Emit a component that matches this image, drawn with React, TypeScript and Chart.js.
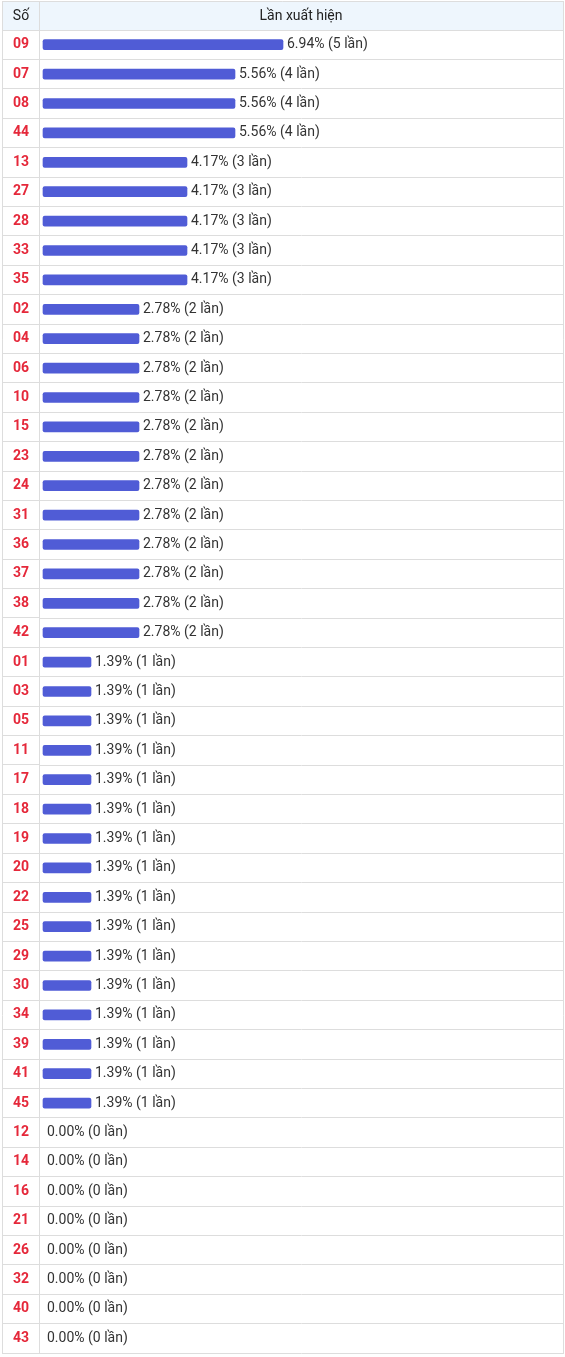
import React, { useEffect, useRef } from 'react';
import { Chart, registerables } from 'chart.js';

Chart.register(...registerables);

const numbers = [
  '09', '07', '08', '44', '13', '27', '28', '33', '35',
  '02', '04', '06', '10', '15', '23', '24', '31', '36', '37', '38', '42',
  '01', '03', '05', '11', '17', '18', '19', '20', '22', '25', '29', '30', '34', '39', '41', '45',
  '12', '14', '16', '21', '26', '32', '40', '43',
];

const counts = [
  5, 4, 4, 4, 3, 3, 3, 3, 3,
  2, 2, 2, 2, 2, 2, 2, 2, 2, 2, 2, 2,
  1, 1, 1, 1, 1, 1, 1, 1, 1, 1, 1, 1, 1, 1, 1, 1,
  0, 0, 0, 0, 0, 0, 0, 0,
];

const percents = [
  '6.94', '5.56', '5.56', '5.56', '4.17', '4.17', '4.17', '4.17', '4.17',
  '2.78', '2.78', '2.78', '2.78', '2.78', '2.78', '2.78', '2.78', '2.78', '2.78', '2.78', '2.78',
  '1.39', '1.39', '1.39', '1.39', '1.39', '1.39', '1.39', '1.39', '1.39', '1.39', '1.39', '1.39', '1.39', '1.39', '1.39', '1.39',
  '0.00', '0.00', '0.00', '0.00', '0.00', '0.00', '0.00', '0.00',
];

const headerLabels = ['Số', 'Lần xuất hiện'];
const unitWord = 'lần';

const W = 565;
const H = 1357;
const FRAME_L = 2;
const FRAME_T = 1;
const FRAME_R = 563;
const FRAME_B = 1353;
const HEADER_B = 30;
const COL_X = 39;
const GRID = '#dddddd';
const BAR = '#505cd6';
const FONT = 'Roboto, "Noto Sans", sans-serif';

const align = (p: number) => Math.round(p - 0.5) + 0.5;

const tablePlugin = {
  id: 'tableFrame',
  beforeDraw(chart: any) {
    const { ctx } = chart;
    ctx.save();
    ctx.fillStyle = '#eef6fd';
    ctx.fillRect(FRAME_L, FRAME_T, FRAME_R - FRAME_L, HEADER_B - FRAME_T);
    ctx.restore();
  },
  afterDraw(chart: any) {
    const { ctx, chartArea } = chart;
    const y = chart.scales.y;
    const n = numbers.length;
    const step = n > 1 ? y.getPixelForTick(1) - y.getPixelForTick(0) : chartArea.height;
    ctx.save();
    ctx.strokeStyle = GRID;
    ctx.lineWidth = 1;
    ctx.beginPath();
    for (let i = 0; i <= n; i++) {
      const py = align(i < n ? y.getPixelForTick(i) - step / 2 : y.getPixelForTick(n - 1) + step / 2);
      ctx.moveTo(FRAME_L, py);
      ctx.lineTo(COL_X, py);
    }
    const top = align(FRAME_T + 0.5);
    const bottom = align(chartArea.bottom);
    ctx.moveTo(FRAME_L, top);
    ctx.lineTo(FRAME_R, top);
    ctx.moveTo(align(FRAME_L + 0.5), FRAME_T);
    ctx.lineTo(align(FRAME_L + 0.5), bottom);
    ctx.moveTo(align(FRAME_R), FRAME_T);
    ctx.lineTo(align(FRAME_R), bottom + 0.5);
    ctx.moveTo(align(COL_X), FRAME_T);
    ctx.lineTo(align(COL_X), HEADER_B);
    ctx.stroke();

    ctx.fillStyle = '#222222';
    ctx.font = `14px ${FONT}`;
    ctx.textBaseline = 'middle';
    ctx.textAlign = 'center';
    const hy = (FRAME_T + HEADER_B) / 2 + 0.5;
    ctx.fillText(headerLabels[0], (FRAME_L + COL_X) / 2 + 0.5, hy);
    ctx.fillText(headerLabels[1], (COL_X + FRAME_R) / 2, hy);

    const meta = chart.getDatasetMeta(0);
    ctx.fillStyle = '#333333';
    ctx.textAlign = 'left';
    meta.data.forEach((bar: any, i: number) => {
      ctx.fillText(`${percents[i]}% (${counts[i]} ${unitWord})`, bar.x + 4, bar.y);
    });
    ctx.restore();
  },
};

export default function App() {
  const canvasRef = useRef<HTMLCanvasElement | null>(null);

  useEffect(() => {
    if (!canvasRef.current) return;
    const pxPerUnit = 48;
    const offset = 4 / pxPerUnit;
    const areaWidth = FRAME_R - COL_X;
    const chart = new Chart(canvasRef.current, {
      type: 'bar',
      data: {
        labels: numbers,
        datasets: [
          {
            data: counts,
            backgroundColor: counts.map((c) => (c > 0 ? BAR : 'rgba(0,0,0,0)')),
            borderRadius: 2,
            borderSkipped: false,
            barThickness: 10,
          },
        ],
      },
      plugins: [tablePlugin],
      options: {
        indexAxis: 'y',
        responsive: false,
        animation: false,
        devicePixelRatio: 1,
        layout: {
          padding: { left: FRAME_L, top: HEADER_B, right: W - FRAME_R, bottom: H - FRAME_B },
        },
        plugins: {
          legend: { display: false },
          tooltip: { enabled: false },
        },
        scales: {
          x: {
            display: false,
            min: -offset,
            max: areaWidth / pxPerUnit - offset,
          },
          y: {
            type: 'category',
            afterFit: (s: any) => {
              s.width = COL_X - FRAME_L;
              s.paddingTop = 0;
              s.paddingBottom = 0;
            },
            grid: { color: GRID, drawTicks: false, offset: true },
            border: { color: GRID },
            ticks: {
              color: '#e5283a',
              font: { family: FONT, size: 14, weight: 'bold' },
              padding: 10,
              autoSkip: false,
            },
          },
        },
      },
    } as any);
    return () => chart.destroy();
  }, []);

  return (
    <div style={{ position: 'absolute', left: 0, top: 0, width: W, height: H, background: '#ffffff' }}>
      <canvas ref={canvasRef} width={W} height={H} style={{ display: 'block' }} />
    </div>
  );
}
